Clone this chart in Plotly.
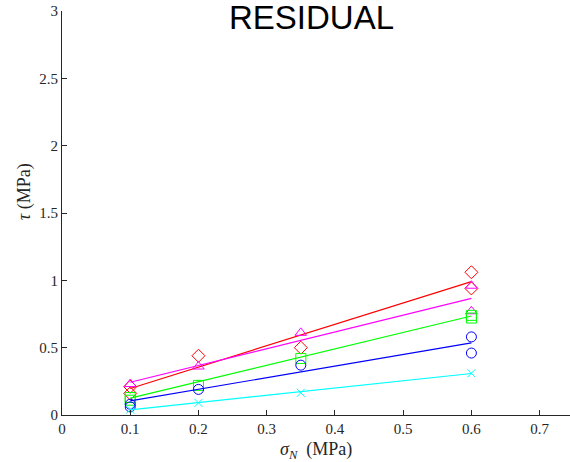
import plotly.graph_objects as go

# Normal stress levels (MPa) and measured residual shear stress (MPa) per series
x_red = [0.1, 0.1, 0.2, 0.35, 0.6, 0.6]
y_red = [0.21, 0.16, 0.44, 0.50, 1.06, 0.94]

x_magenta = [0.1, 0.2, 0.35, 0.6, 0.6]
y_magenta = [0.23, 0.36, 0.61, 0.96, 0.77]

x_green = [0.1, 0.1, 0.2, 0.35, 0.6, 0.6]
y_green = [0.13, 0.11, 0.22, 0.42, 0.74, 0.72]

x_blue = [0.1, 0.1, 0.2, 0.35, 0.6, 0.6]
y_blue = [0.08, 0.06, 0.19, 0.37, 0.58, 0.46]

x_cyan = [0.1, 0.2, 0.35, 0.6]
y_cyan = [0.04, 0.09, 0.165, 0.31]

# Linear fit lines evaluated at the ends of the tested range
fit_x = [0.1, 0.6]
fit_red = [0.197, 0.99]
fit_magenta = [0.243, 0.866]
fit_green = [0.125, 0.735]
fit_blue = [0.105, 0.535]
fit_cyan = [0.038, 0.308]

x_ticks = [0, 0.1, 0.2, 0.3, 0.4, 0.5, 0.6, 0.7]
y_ticks = [0, 0.5, 1, 1.5, 2, 2.5, 3]

series = [
    (x_red, y_red, fit_red, "#ff0000", "diamond-open"),
    (x_magenta, y_magenta, fit_magenta, "#ff00ff", "triangle-up-open"),
    (x_green, y_green, fit_green, "#00ff00", "square-open"),
    (x_blue, y_blue, fit_blue, "#0000ff", "circle-open"),
    (x_cyan, y_cyan, fit_cyan, "#00ffff", "x-thin-open"),
]

fig = go.Figure()
for xs, ys, fit, color, symbol in series:
    fig.add_trace(go.Scatter(
        x=fit_x, y=fit, mode="lines",
        line=dict(color=color, width=1.2), showlegend=False, hoverinfo="skip",
    ))
    fig.add_trace(go.Scatter(
        x=xs, y=ys, mode="markers",
        marker=dict(symbol=symbol, size=10 if symbol != "x-thin-open" else 8,
                    color=color, line=dict(color=color, width=1)),
        showlegend=False,
    ))

axis_color = "#262626"
serif = "Liberation Serif, DejaVu Serif, serif"

# plot area in pixels: left 61.5, right 570, top 11, bottom 415.5
L, R, T, B = 61.5, 570.0, 11.0, 415.5


def px_x(p):
    return (p - L) / (R - L)


def px_y(p):
    return (B - p) / (B - T)


fig.update_layout(
    width=570, height=462,
    margin=dict(l=L, r=570 - R, t=T, b=462 - B),
    paper_bgcolor="white", plot_bgcolor="white",
    font=dict(family=serif, size=15, color=axis_color),
    xaxis=dict(
        range=[0, 0.7445], tickvals=x_ticks,
        ticktext=[f"{v:g}" for v in x_ticks],
        showgrid=False, zeroline=False,
        showline=True, linecolor=axis_color, linewidth=1,
        ticks="inside", ticklen=5, tickcolor=axis_color, tickwidth=1,
    ),
    yaxis=dict(
        range=[0, 3], tickvals=y_ticks,
        ticktext=[f"{v:g}" for v in y_ticks],
        showgrid=False, zeroline=False,
        showline=True, linecolor=axis_color, linewidth=1,
        ticks="inside", ticklen=5, tickcolor=axis_color, tickwidth=1,
    ),
    annotations=[
        dict(
            text="RESIDUAL", xref="paper", yref="paper",
            x=px_x(311), y=px_y(17), height=32, valign="middle",
            xanchor="center", yanchor="middle", showarrow=False,
            font=dict(family="Liberation Sans, Arial, sans-serif", size=33, color="black"),
        ),
        dict(
            text="<i>σ</i><sub><i>N</i></sub>  (MPa)", xref="paper", yref="paper",
            x=px_x(316), y=px_y(451),
            xanchor="center", yanchor="middle", showarrow=False,
            font=dict(family=serif, size=18, color=axis_color),
        ),
        dict(
            text="<i>τ</i> (MPa)", xref="paper", yref="paper",
            x=px_x(24), y=px_y(192), textangle=-90,
            xanchor="center", yanchor="middle", showarrow=False,
            font=dict(family=serif, size=18, color=axis_color),
        ),
    ],
)

fig.write_html("out.html")
